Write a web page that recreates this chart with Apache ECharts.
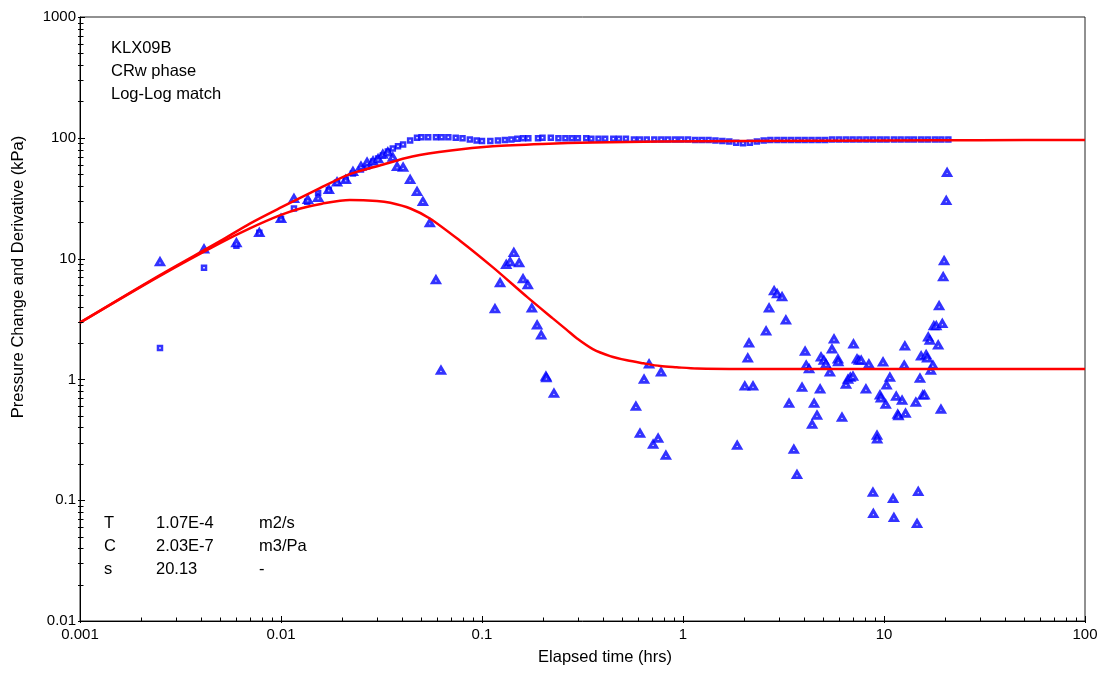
<!DOCTYPE html>
<html>
<head>
<meta charset="utf-8">
<script src="https://cdn.jsdelivr.net/npm/echarts@6/dist/echarts.min.js"></script>
<style>
  html, body { margin: 0; padding: 0; background: #fff; }
  #chart { width: 1109px; height: 673px; }
</style>
</head>
<body>
<div id="chart"></div>
<script>
// Pressure change (squares): elapsed time (hrs) and value (kPa)
const pressTime = [0.0025, 0.00414, 0.006, 0.0078, 0.01, 0.0116, 0.0135, 0.0153, 0.0173, 0.019,
  0.021, 0.0228, 0.025, 0.0268, 0.0287, 0.0304, 0.0321, 0.034, 0.036, 0.0382,
  0.0405, 0.0439, 0.0475, 0.050, 0.054, 0.059, 0.063, 0.068, 0.074, 0.080,
  0.087, 0.094, 0.10, 0.11, 0.12, 0.13, 0.14, 0.15, 0.16, 0.17,
  0.19, 0.20, 0.22, 0.24, 0.26, 0.28, 0.30, 0.33, 0.35, 0.38,
  0.41, 0.45, 0.48, 0.52, 0.57, 0.61, 0.66, 0.72, 0.78, 0.84,
  0.91, 0.98, 1.06, 1.15, 1.24, 1.34, 1.45, 1.57, 1.70, 1.84,
  1.99, 2.15, 2.33, 2.52, 2.72, 2.95, 3.19, 3.45, 3.73, 4.03,
  4.36, 4.72, 5.10, 5.52, 5.97, 6.46, 6.98, 7.55, 8.17, 8.83,
  9.55, 10.3, 11.2, 12.1, 13.1, 14.1, 15.3, 16.5, 17.9, 19.3, 20.9];
const pressValue = [1.82, 8.4, 12.8, 16.4, 21.4, 26, 29.5, 35, 37, 42.7,
  45.2, 50.6, 54.7, 57.9, 63.7, 67.5, 71.5, 77, 81.6, 85,
  88, 95, 100, 101, 101, 101, 101, 101, 100, 99,
  97, 95, 94, 94, 95, 96, 97, 98, 99, 99,
  99, 100, 100, 99, 99, 99, 99, 99, 98, 98,
  98, 98, 98, 98, 97, 97, 97, 97, 97, 97,
  97, 97, 97, 96, 96, 96, 95, 94, 93, 91,
  90, 91, 93, 95, 96, 96, 96, 96, 96, 96,
  96, 96, 96, 97, 97, 97, 97, 97, 97, 97,
  97, 97, 97, 97, 97, 97, 97, 97, 97, 97, 97];

// Pressure derivative (triangles)
const derivTime = [0.0025, 0.00414, 0.006, 0.0078, 0.01, 0.0116, 0.0136, 0.0153, 0.0173, 0.019,
  0.021, 0.0228, 0.025, 0.0268, 0.0287, 0.0304, 0.0321, 0.034, 0.036, 0.0378,
  0.0405, 0.0439, 0.0475, 0.0508, 0.055, 0.059, 0.0625, 0.116, 0.123, 0.132,
  0.138, 0.144, 0.153, 0.16, 0.169, 0.177, 0.188, 0.197, 0.208, 0.209,
  0.228, 0.583, 0.611, 0.64, 0.678, 0.71, 0.752, 0.778, 0.822, 1.86,
  2.03, 2.1, 2.13, 2.23, 2.59, 2.68, 2.84, 2.94, 3.11, 3.25,
  3.37, 3.56, 3.69, 3.91, 4.05, 4.1, 4.24, 4.39, 4.49, 4.64,
  4.81, 4.86, 5.02, 5.14, 5.38, 5.51, 5.64, 5.9, 5.92, 6.18,
  6.47, 6.62, 6.8, 7.01, 7.05, 7.34, 7.5, 7.7, 8.13, 8.41,
  8.81, 8.85, 9.23, 9.25, 9.55, 9.65, 9.89, 10.2, 10.3, 10.7,
  11.1, 11.2, 11.5, 11.7, 11.8, 12.3, 12.6, 12.7, 12.8, 14.4,
  14.6, 14.8, 15.1, 15.3, 15.6, 15.9, 16.2, 16.4, 16.6, 16.9,
  17.1, 17.5, 17.7, 18.2, 18.6, 18.8, 19.2, 19.5, 19.7, 19.9,
  20.4, 20.6];
const derivValue = [9.4, 12.0, 13.5, 16.4, 21.4, 31.4, 30.8, 32, 37.2, 43,
  45, 52.6, 57.9, 62.5, 64, 67, 72.8, 76, 68.8, 57.8,
  56.8, 45.1, 35.9, 29.7, 19.8, 6.67, 1.19, 3.83, 6.3, 8.9,
  9.4, 11.2, 9.2, 6.8, 6.06, 3.9, 2.82, 2.33, 1.06, 1.03,
  0.767, 0.598, 0.357, 1.0, 1.34, 0.29, 0.325, 1.15, 0.235, 0.284,
  0.879, 1.50, 2.0, 0.879, 2.51, 3.9, 5.41, 5.1, 4.82, 3.1,
  0.634, 0.263, 0.163, 0.86, 1.71, 1.31, 1.22, 0.425, 0.634, 0.505,
  0.83, 1.53, 1.44, 1.34, 1.15, 1.78, 2.16, 1.47, 1.40, 0.485,
  0.91, 1.0, 1.04, 1.06, 1.96, 1.47, 1.44, 1.44, 0.83, 1.34,
  0.116, 0.0775, 0.344, 0.32, 0.74, 0.70, 1.39, 0.62, 0.895, 1.04,
  0.103, 0.0716, 0.725, 0.514, 0.50, 0.671, 1.31, 1.89, 0.524, 0.647,
  0.064, 0.118, 1.02, 1.56, 0.74, 0.74, 1.6, 1.5, 2.24, 2.1,
  1.19, 1.31, 2.77, 2.77, 1.92, 4.06, 0.566, 2.9, 7.06, 9.6,
  30.2, 51.6];

// Type-curve match: pressure and derivative model lines
const modelPressTime = [0.001, 0.0025, 0.005, 0.007, 0.01, 0.015, 0.022, 0.031, 0.045, 0.07,
  0.113, 0.2, 0.356, 0.77, 2, 10, 30, 100];
const modelPressValue = [2.95, 7.3, 14.0, 19.5, 26.5, 37, 50, 59, 70, 78.5,
  85, 89, 91.5, 93, 94, 95, 95.5, 96];
const modelDerivTime = [0.001, 0.0025, 0.005, 0.007, 0.01, 0.0125, 0.016, 0.022, 0.03, 0.035,
  0.044, 0.055, 0.078, 0.113, 0.168, 0.225, 0.264, 0.296, 0.356, 0.434,
  0.526, 0.634, 0.77, 0.93, 1.175, 2, 10, 100];
const modelDerivValue = [2.95, 7.2, 13.5, 17.8, 23, 26, 28.5, 30.5, 30, 29,
  26, 21.5, 14, 8.5, 4.8, 3.2, 2.57, 2.19, 1.78, 1.56,
  1.44, 1.36, 1.29, 1.26, 1.23, 1.22, 1.22, 1.22];

// Axis tick labels
const xTickLabels = ['0.001', '0.01', '0.1', '1', '10', '100'];
const yTickLabels = ['0.01', '0.1', '1', '10', '100', '1000'];
const xTitle = 'Elapsed time (hrs)';
const yTitle = 'Pressure Change and Derivative (kPa)';

// Annotation texts
const headerLines = ['KLX09B', 'CRw phase', 'Log-Log match'];
const paramNames = ['T', 'C', 's'];
const paramValues = ['1.07E-4', '2.03E-7', '20.13'];
const paramUnits = ['m2/s', 'm3/Pa', '-'];

const zip = (a, b) => a.map((v, i) => [v, b[i]]);
const FONT = 'Liberation Sans, Arial, sans-serif';

function labelFor(list, v) {
  const s = list.find(t => Math.abs(Math.log10(parseFloat(t)) - Math.log10(v)) < 1e-6);
  return s || '';
}

const chart = echarts.init(document.getElementById('chart'), null, { renderer: 'canvas' });

const GRID = { left: 80, right: 24, top: 17, bottom: 52 };

function txt(x, y, text, size, extra) {
  return Object.assign({ type: 'text', x: x, y: y, silent: true,
    style: { text: text, font: size + 'px ' + FONT, fill: '#000', verticalAlign: 'middle', align: 'left' } }, extra || {});
}

const textEls = [];
headerLines.forEach((t, i) => textEls.push(txt(111, 48 + i * 23, t, 16.5)));
paramNames.forEach((t, i) => {
  const y = 523 + i * 23;
  textEls.push(txt(104, y, t, 16.5));
  textEls.push(txt(156, y, paramValues[i], 16.5));
  textEls.push(txt(259, y, paramUnits[i], 16.5));
});
// axis titles
textEls.push({ type: 'text', x: 605, y: 657, silent: true,
  style: { text: xTitle, font: '16.5px ' + FONT, fill: '#000', align: 'center', verticalAlign: 'middle' } });
textEls.push({ type: 'text', x: 18, y: 277, rotation: Math.PI / 2, silent: true,
  style: { text: yTitle, font: '16.5px ' + FONT, fill: '#000', align: 'center', verticalAlign: 'middle' } });

chart.setOption({
  animation: false,
  backgroundColor: '#fff',
  grid: Object.assign({ show: true, borderColor: '#222', borderWidth: 1 }, GRID),
  xAxis: {
    type: 'log', logBase: 10, min: 0.001, max: 100,
    axisLine: { show: true, lineStyle: { color: '#000', width: 1 } },
    axisTick: { show: false },
    minorTick: { show: false },
    axisLabel: { fontFamily: FONT, fontSize: 15, color: '#000', margin: 6,
      formatter: v => labelFor(xTickLabels, v) },
    splitLine: { show: false }
  },
  yAxis: {
    type: 'log', logBase: 10, min: 0.01, max: 1000,
    axisLine: { show: true, lineStyle: { color: '#000', width: 1 } },
    axisTick: { show: false },
    minorTick: { show: false },
    axisLabel: { fontFamily: FONT, fontSize: 15, color: '#000', margin: 4,
      formatter: v => labelFor(yTickLabels, v) },
    splitLine: { show: false }
  },
  series: [
    {
      name: 'Pressure change', type: 'scatter', symbol: 'rect', symbolSize: 4,
      itemStyle: { color: '#fff', borderColor: '#0000ff', borderWidth: 2.5 },
      data: zip(pressTime, pressValue), z: 3
    },
    {
      name: 'Derivative', type: 'scatter', symbol: 'triangle', symbolSize: [7, 6],
      itemStyle: { color: '#fff', borderColor: '#0000ff', borderWidth: 3 },
      data: zip(derivTime, derivValue), z: 3
    },
    {
      name: 'Model pressure', type: 'line', symbol: 'none', smooth: 0.3,
      lineStyle: { color: '#ff0000', width: 2.5 },
      data: zip(modelPressTime, modelPressValue), z: 4
    },
    {
      name: 'Model derivative', type: 'line', symbol: 'none', smooth: 0.3,
      lineStyle: { color: '#ff0000', width: 2.5 },
      data: zip(modelDerivTime, modelDerivValue), z: 4
    }
  ]
});

// Log ticks (decades and 2..9 within each decade), placed through the axis scales
function logTicks() {
  const els = [];
  const yBottom = chart.convertToPixel({ yAxisIndex: 0 }, 0.01);
  const xLeft = chart.convertToPixel({ xAxisIndex: 0 }, 0.001);
  const line = (x1, y1, x2, y2) => ({ type: 'line', silent: true, z: 10,
    shape: { x1: x1, y1: y1, x2: x2, y2: y2 }, style: { stroke: '#000', lineWidth: 1 } });
  for (let e = -3; e <= 2; e++) {
    for (let m = 1; m < 10; m++) {
      if (e === 2 && m > 1) break;
      const x = Math.round(chart.convertToPixel({ xAxisIndex: 0 }, m * Math.pow(10, e))) + 0.5;
      els.push(line(x, yBottom + (m === 1 ? 2 : 0), x, yBottom - (m === 1 ? 5 : 3.5)));
    }
  }
  for (let e = -2; e <= 3; e++) {
    for (let m = 1; m < 10; m++) {
      if (e === 3 && m > 1) break;
      const y = Math.round(chart.convertToPixel({ yAxisIndex: 0 }, m * Math.pow(10, e))) + 0.5;
      els.push(line(xLeft - 2, y, xLeft + (m === 1 ? 5 : 3.5), y));
    }
  }
  return els;
}

chart.setOption({ graphic: { elements: textEls.concat(logTicks()) } });
</script>
</body>
</html>
